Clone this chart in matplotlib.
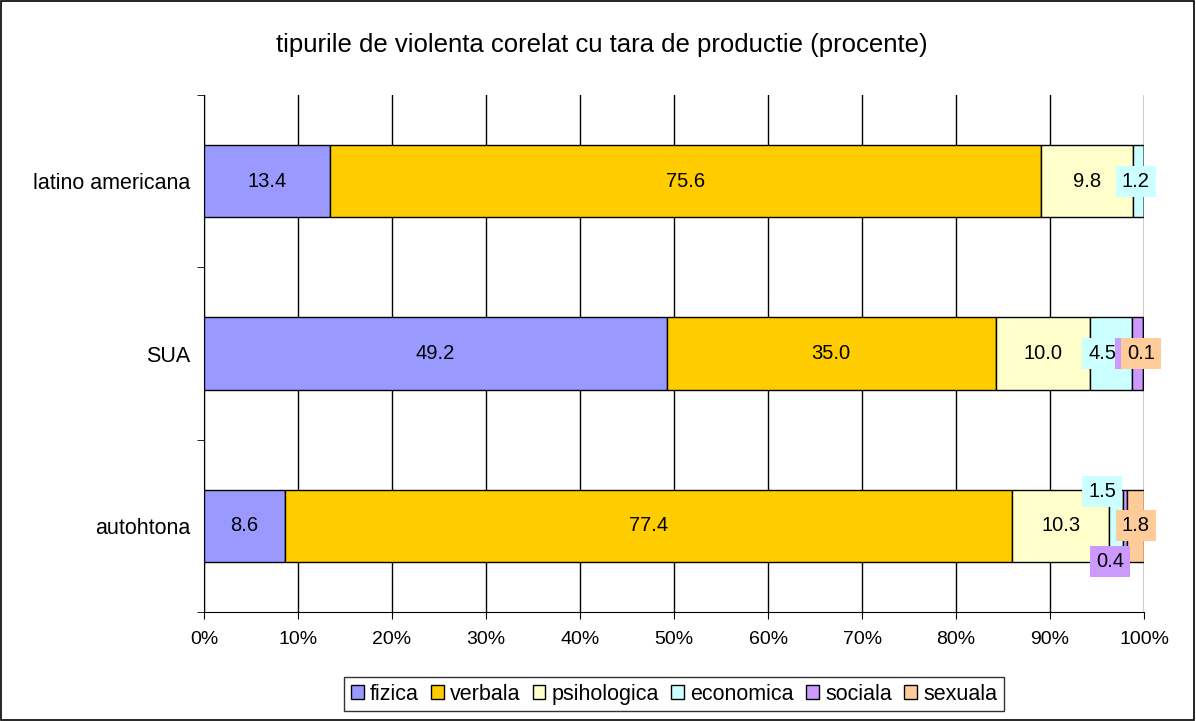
import matplotlib
matplotlib.use('Agg')
import matplotlib.pyplot as plt
from matplotlib.patches import Rectangle
import numpy as np

plt.rcParams['font.family'] = ['Liberation Sans', 'DejaVu Sans']

# data
categories = ['autohtona', 'SUA', 'latino americana']
series = ['fizica', 'verbala', 'psihologica', 'economica', 'sociala', 'sexuala']
fizica = [8.6, 49.2, 13.4]
verbala = [77.4, 35.0, 75.6]
psihologica = [10.3, 10.0, 9.8]
economica = [1.5, 4.5, 1.2]
sociala = [0.4, 1.2, 0.0]
sexuala = [1.8, 0.1, 0.0]
colors = ['#9999FF', '#FFCC00', '#FFFFCC', '#CCFFFF', '#CC99FF', '#FFCC99']
title = 'tipurile de violenta corelat cu tara de productie (procente)'

values = [fizica, verbala, psihologica, economica, sociala, sexuala]

# label nudges (points) for crowded small segments: (series, category) -> (dx, dy)
nudges = {
    (3, 0): (-10, 25), (4, 0): (-11, -26), (5, 0): (0, 0),
    (3, 1): (-6, 0), (4, 1): (-2, 0), (5, 1): (-2, 0),
    (3, 2): (-2, 0),
}

fig = plt.figure(figsize=(11.96, 7.21), dpi=100)
fig.patches.append(Rectangle((0.0005, 0.001), 0.998, 0.997, transform=fig.transFigure,
                             fill=False, edgecolor='black', linewidth=1.2))
ax = fig.add_axes([0.1706, 0.1512, 0.786, 0.717])

y = np.arange(len(categories))
left = np.zeros(len(categories))
for si, (vals, col) in enumerate(zip(values, colors)):
    vals = np.array(vals)
    ax.barh(y, vals, left=left, height=0.42, color=col, edgecolor='black',
            linewidth=1.0, label=series[si], zorder=3)
    for ci, v in enumerate(vals):
        if v <= 0:
            continue
        dx, dy = nudges.get((si, ci), (0, 0))
        ax.annotate(f'{v:.1f}', xy=(left[ci] + v / 2, y[ci]), xytext=(dx, dy),
                    textcoords='offset points', ha='center', va='center',
                    fontsize=14.5, zorder=5 + si,
                    bbox=dict(boxstyle='square,pad=0.3', fc=col, ec='none'))
    left += vals

ax.set_xlim(0, 100)
ax.set_ylim(-0.5, 2.5)
ax.set_xticks(np.arange(0, 101, 10))
ax.set_xticklabels([f'{t}%' for t in range(0, 101, 10)], fontsize=14)
ax.set_yticks(y)
ax.set_yticklabels(categories, fontsize=15.5)
ax.set_yticks([-0.5, 0.5, 1.5, 2.5], minor=True)
ax.tick_params(axis='y', which='major', length=0, pad=10)
ax.tick_params(axis='y', which='minor', length=5, direction='out')
ax.tick_params(axis='x', length=5, direction='out', pad=9)
ax.xaxis.grid(True, color='black', linewidth=1.0, zorder=0)
ax.set_axisbelow(True)
ax.spines['top'].set_visible(False)
ax.spines['right'].set_visible(False)

fig.text(0.503, 0.937, title, ha='center', va='center', fontsize=18.5)

leg = fig.legend(loc='center', bbox_to_anchor=(0.5635, 0.0374), ncol=6,
                 frameon=True, fancybox=False, fontsize=15.5,
                 handlelength=0.6, handleheight=0.6, handletextpad=0.3,
                 columnspacing=0.55, borderpad=0.3)
leg.get_frame().set_edgecolor('black')
leg.get_frame().set_linewidth(1.0)

fig.savefig('out.png', dpi=100)
